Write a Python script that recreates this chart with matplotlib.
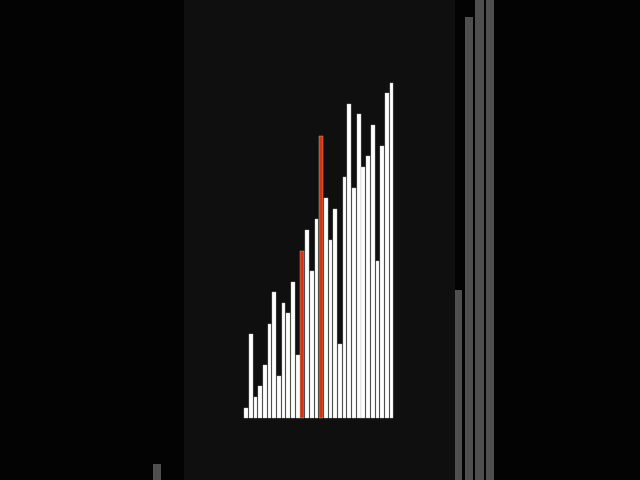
import matplotlib
matplotlib.use("Agg")
import matplotlib.pyplot as plt
import numpy as np

# bar values (sorting visualisation snapshot)
values = [10, 84, 21, 32, 53, 94, 126, 42, 115, 105, 136, 63, 167, 188, 147, 199,
          282, 220, 178, 209, 74, 241, 314, 230, 304, 251, 262, 293, 157, 272, 325, 335]
highlight = [12, 16]  # red bars (indices)

# blurred background bars (zoomed copy of the same visual)
bg_index = [0, 28, 29, 30, 31]
bg_heights = [16, 190, 463, 520, 520]

W, H = 640, 480
fig = plt.figure(figsize=(6.4, 4.8), dpi=100, facecolor="#030303")

# background layer
bg = fig.add_axes([0, 0, 1, 1])
bg.set_facecolor("#030303")
step_bg = 10.75
x0_bg = 157
bg.set_xlim(-x0_bg / step_bg, (W - x0_bg) / step_bg)
bg.set_ylim(0, H)
bg.bar(bg_index, bg_heights, width=8.4 / step_bg, color="#4f4f4f", align="center")
bg.axis("off")

# main panel
pl, pr = 184, 455
step = 4.694
x0 = 246
base = 418
ax = fig.add_axes([pl / W, 0, (pr - pl) / W, 1])
ax.set_facecolor("#0f0f0f")
ax.set_xlim((pl - x0) / step, (pr - x0) / step)
ax.set_ylim(-(H - base), base)
colors = ["#d4330f" if i in highlight else "#ffffff" for i in range(len(values))]
ax.bar(np.arange(len(values)), values, width=0.8, color=colors,
       edgecolor="#bdbdbd", linewidth=0.3)
for s in ax.spines.values():
    s.set_visible(False)
ax.set_xticks([])
ax.set_yticks([])

fig.savefig("out.png", dpi=100, facecolor=fig.get_facecolor())
